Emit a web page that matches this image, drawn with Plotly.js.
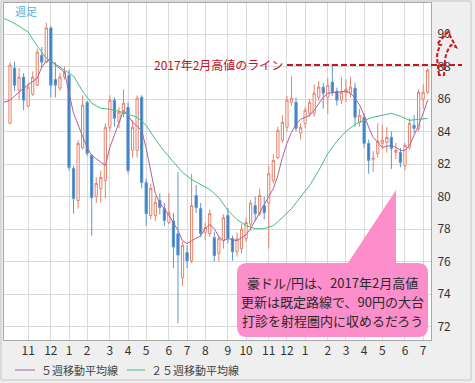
<!DOCTYPE html>
<html><head><meta charset="utf-8">
<script src="https://cdn.plot.ly/plotly-3.0.1.min.js"></script>
<style>html,body{margin:0;padding:0;background:#efefef;}#chart{width:475px;height:383px;}</style>
</head><body><div id="chart"></div>
<script>
// Weekly AUD/JPY candles (Oct 2015 - Jul 2017), index = week number
const openP  = [84.51,87.90,86.54,87.35,85.56,86.30,86.85,88.70,88.27,90.37,87.20,86.67,87.35,87.46,81.73,79.75,83.00,85.80,82.53,80.00,80.49,80.99,84.26,85.93,84.60,85.12,85.49,82.84,82.84,86.11,80.86,78.83,78.83,79.75,79.26,78.40,78.50,77.70,75.00,76.55,76.05,80.06,79.26,77.80,77.72,77.47,76.50,77.30,78.83,77.41,76.60,76.80,77.40,78.30,79.44,78.95,79.44,79.60,80.99,82.40,83.46,84.26,85.80,85.80,83.90,84.50,85.12,85.12,86.11,86.73,86.11,87.04,86.48,85.93,86.40,86.36,86.67,84.57,84.88,83.27,82.30,82.65,83.27,83.33,83.64,82.72,82.72,81.91,83.02,84.38,84.20,86.00,86.42];
const highP  = [88.27,88.30,87.90,87.60,87.00,87.70,89.10,89.20,90.70,90.50,88.27,87.60,88.00,87.80,81.90,83.46,86.23,85.90,82.60,81.20,81.60,84.50,86.23,86.10,85.50,86.60,85.80,84.70,86.23,86.23,81.10,80.80,80.00,80.20,79.60,80.20,79.00,81.50,77.20,77.00,81.40,80.70,79.60,78.40,79.20,77.80,77.60,78.90,79.30,77.60,77.80,78.30,78.70,79.80,80.00,80.50,80.00,81.90,82.60,84.30,85.00,86.20,87.40,86.10,84.50,85.50,86.00,86.90,87.10,87.00,87.30,88.09,86.70,87.35,87.20,87.35,87.00,85.40,85.10,83.50,82.80,84.50,84.40,84.26,84.00,83.30,83.00,83.30,84.80,85.00,86.60,86.90,87.90];
const lowP   = [84.45,86.50,85.95,85.31,85.50,86.20,86.80,87.90,88.20,86.10,86.10,86.50,87.20,81.60,78.95,79.26,82.90,82.50,77.59,79.60,79.63,79.88,84.00,84.30,84.20,84.90,81.40,82.40,82.40,80.50,78.20,78.60,78.50,78.90,78.20,78.30,75.60,72.20,74.50,75.60,75.90,79.00,77.50,77.30,77.50,76.00,76.00,76.80,77.10,76.05,76.30,76.50,77.20,77.90,78.50,78.80,78.60,76.80,80.80,82.30,83.30,84.00,85.60,84.00,83.50,84.20,84.90,84.90,85.90,85.40,85.10,86.20,85.60,85.70,85.80,86.10,84.30,84.30,83.00,81.40,81.50,82.40,82.90,82.70,81.70,82.30,81.80,81.60,82.90,83.90,84.00,85.40,86.30];
const closeP = [88.09,86.85,87.35,85.93,86.73,87.35,88.89,88.27,90.37,86.85,86.85,87.35,87.65,81.79,79.88,83.27,85.62,82.65,79.94,80.80,81.17,84.26,85.93,84.81,85.20,85.74,81.60,84.26,86.05,80.86,78.95,80.50,79.63,79.32,78.52,79.00,76.90,76.40,77.00,76.05,79.44,79.32,77.72,78.10,78.95,76.36,77.40,78.70,77.41,76.60,77.40,78.00,78.40,79.60,78.95,80.06,79.00,81.40,82.22,84.07,84.57,85.93,86.05,84.20,84.26,85.31,85.80,86.35,86.73,86.36,86.85,86.42,85.93,86.42,86.60,86.73,84.88,85.00,83.27,82.22,82.35,83.40,83.46,83.64,82.96,82.84,82.10,83.15,84.50,84.20,86.42,86.42,87.78];

// 5-week moving average
const ma5Idx = [-1.3,0,3,5,6,7,8,9,10,12,13,14,16,17,18,20,21,22,23,24,25,26,27,28,29,30,31,32,33,34,36,37,38,39,40,41,42,43,44,45,46,47,48,49,50,51,52,53,54,55,56,57,58,59,60,61,62,63,64,65,66,67,68,69,70,72,74,75,76,77,78,79,80,81,82,83,84,85,86,87,88,89,90,91,92];
const ma5Val = [85.80,85.93,86.67,87.04,87.28,87.96,88.33,88.40,88.09,87.65,86.42,85.12,83.70,83.02,82.53,82.10,81.91,83.02,83.77,84.57,85.31,85.00,84.57,84.32,84.07,82.96,81.60,80.19,79.57,79.26,78.40,77.90,77.28,77.10,77.28,77.41,77.59,78.02,78.27,78.02,77.53,77.28,77.41,77.35,77.28,77.47,77.65,78.02,78.52,79.01,79.44,79.94,80.49,81.30,82.41,83.27,83.95,84.44,84.75,84.88,85.00,85.31,85.74,86.11,86.36,86.42,86.48,86.36,86.05,85.62,85.00,84.26,83.64,83.33,83.02,83.09,83.15,83.02,82.84,82.84,83.15,83.77,84.38,85.12,85.93];

// 25-week moving average
const ma25Idx = [-1.3,0,2,4,6,8,10,12,14,16,18,20,22,24,26,28,30,32,34,36,38,40,42,44,46,48,50,52,54,56,58,60,62,64,66,68,70,72,74,76,78,80,82,84,86,88,90,92];
const ma25Val = [90.95,90.80,90.49,90.12,89.26,88.52,88.15,87.78,87.41,86.48,85.74,85.43,85.37,85.25,85.06,84.88,84.38,83.52,82.78,82.10,81.48,81.05,80.74,80.43,79.94,79.14,78.58,78.21,78.02,78.02,78.21,78.70,79.26,79.94,80.68,81.60,82.65,83.40,84.01,84.44,84.69,84.88,85.00,85.12,84.94,84.69,84.75,84.81];

// Month ticks (week index where month begins) and labels
const monthTickIdx = [4,9,13,17,22,26,30,35,39,43,48,52,57,61,65,70,74,78,82,87,91];
const monthLabels  = ['11','12','1','2','3','4','5','6','7','8','9','10','11','12','1','2','3','4','5','6','7'];

const yTicks = [72,74,76,78,80,82,84,86,88,90];
const feb2017High = 88.1;
const lineLabel = '2017年2月高値のライン';
const calloutLines = ['豪ドル/円は、2017年2月高値','更新は既定路線で、90円の大台','打診を射程圏内に収めるだろう'];
const ma5Name = '５週移動平均線';
const ma25Name = '２５週移動平均線';
const chartLabel = '週足';

const W = 475, H = 383, L = 4, R = 44, T = 3, B = 43;
const PW = W - L - R, PH = H - T - B;
const px = x => (x - L) / PW;
const py = y => (H - B - y) / PH;
const P = (x, y) => px(x).toFixed(4) + ',' + py(y).toFixed(4);

const idx = openP.map((_, i) => i);
const FONT = 'Noto Sans CJK JP, Noto Sans, sans-serif';
const MA5_COLOR = '#b0609a', MA25_COLOR = '#3fbf86';

const traces = [
  {
    type: 'candlestick', x: idx, open: openP, high: highP, low: lowP, close: closeP,
    increasing: {line: {color: '#e4826c', width: 1}, fillcolor: '#ffffff'},
    decreasing: {line: {color: '#5a97d2', width: 1}, fillcolor: '#3b7cbf'},
    whiskerwidth: 0, showlegend: false, hoverinfo: 'skip'
  },
  {type: 'scatter', mode: 'lines', x: ma5Idx, y: ma5Val, name: ma5Name, showlegend: false,
   line: {color: MA5_COLOR, width: 1}, hoverinfo: 'skip'},
  {type: 'scatter', mode: 'lines', x: ma25Idx, y: ma25Val, name: ma25Name, showlegend: false,
   line: {color: MA25_COLOR, width: 1}, hoverinfo: 'skip'}
];

const calloutPath = 'M' + P(247,263) + ' L' + P(348,263) + ' L' + P(396,190) + ' L' + P(396,263) +
  ' L' + P(418,263) + ' Q' + P(428,263) + ' ' + P(428,273) + ' L' + P(428,327) +
  ' Q' + P(428,337) + ' ' + P(418,337) + ' L' + P(247,337) + ' Q' + P(237,337) + ' ' + P(237,327) +
  ' L' + P(237,273) + ' Q' + P(237,263) + ' ' + P(247,263) + ' Z';

const arrowPath = 'M' + P(439,75) + ' L' + P(437,58) + ' Q' + P(437,50) + ' ' + P(441,45) +
  ' L' + P(437,44) + ' L' + P(448,32) + ' L' + P(456,47) + ' L' + P(451,45) +
  ' Q' + P(446,52) + ' ' + P(445,60) + ' L' + P(444,75) + ' Z';

const annotations = [
  {xref: 'paper', yref: 'paper', x: px(13), y: py(11), xanchor: 'left', yanchor: 'middle',
   text: chartLabel, showarrow: false, font: {family: FONT, size: 11, color: '#45b3e0'}},
  {xref: 'paper', yref: 'y', x: px(285), y: feb2017High, xanchor: 'right', yanchor: 'middle',
   text: lineLabel, showarrow: false, font: {family: FONT, size: 12, color: '#c8101a'}},
  {xref: 'paper', yref: 'paper', x: px(39), y: py(370), xanchor: 'left', yanchor: 'middle',
   text: ma5Name, showarrow: false, font: {family: FONT, size: 11, color: '#444'}},
  {xref: 'paper', yref: 'paper', x: px(149), y: py(370), xanchor: 'left', yanchor: 'middle',
   text: ma25Name, showarrow: false, font: {family: FONT, size: 11, color: '#444'}}
];
calloutLines.forEach((t, i) => annotations.push({
  xref: 'paper', yref: 'paper', x: px(332), y: py(282 + i * 19), xanchor: 'center', yanchor: 'middle',
  text: t, showarrow: false, font: {family: FONT, size: 13, color: '#2a2a2a'}
}));

const layout = {
  width: W, height: H,
  margin: {l: L, r: R, t: T, b: B, pad: 0},
  paper_bgcolor: '#efefef', plot_bgcolor: '#ffffff',
  font: {family: FONT, size: 12, color: '#333'},
  showlegend: false,
  xaxis: {type: 'linear', range: [-1.32, 92.73], rangeslider: {visible: false},
          tickmode: 'array', tickvals: monthTickIdx, ticktext: monthLabels,
          showgrid: true, gridcolor: '#d9d9d9', gridwidth: 1, zeroline: false,
          showline: true, mirror: true, linecolor: '#a8a8a8', linewidth: 1,
          ticks: '', tickfont: {family: FONT, size: 12, color: '#333'}, fixedrange: true},
  yaxis: {range: [71.17, 91.91], side: 'right', tickmode: 'array', tickvals: yTicks,
          showgrid: true, gridcolor: '#d9d9d9', gridwidth: 1, zeroline: false,
          showline: true, mirror: true, linecolor: '#a8a8a8', linewidth: 1,
          ticks: '', ticklabelstandoff: 3, tickfont: {family: FONT, size: 12, color: '#333'}, fixedrange: true},
  shapes: [
    {type: 'path', xref: 'paper', yref: 'paper', path: calloutPath, fillcolor: '#fc8ecb',
     line: {width: 0}, layer: 'above'},
    {type: 'line', xref: 'paper', yref: 'y', x0: px(287), x1: px(462), y0: feb2017High, y1: feb2017High,
     line: {color: '#d0121c', width: 2, dash: '6px,3px'}, layer: 'above'},
    {type: 'path', xref: 'paper', yref: 'paper', path: arrowPath, fillcolor: 'rgba(0,0,0,0)',
     line: {color: '#d0121c', width: 2, dash: '4px,2px'}, layer: 'above'},
    {type: 'line', xref: 'paper', yref: 'paper', x0: px(15), x1: px(35), y0: py(370), y1: py(370),
     line: {color: MA5_COLOR, width: 1}},
    {type: 'line', xref: 'paper', yref: 'paper', x0: px(127), x1: px(145), y0: py(370), y1: py(370),
     line: {color: MA25_COLOR, width: 1}},
    {type: 'rect', xref: 'paper', yref: 'paper', x0: px(1), x1: px(471), y0: py(380), y1: py(1),
     line: {color: '#c4c4c4', width: 1}, fillcolor: 'rgba(0,0,0,0)', layer: 'below'}
  ],
  annotations: annotations
};

Plotly.newPlot('chart', traces, layout, {displayModeBar: false, staticPlot: true});
</script></body></html>
